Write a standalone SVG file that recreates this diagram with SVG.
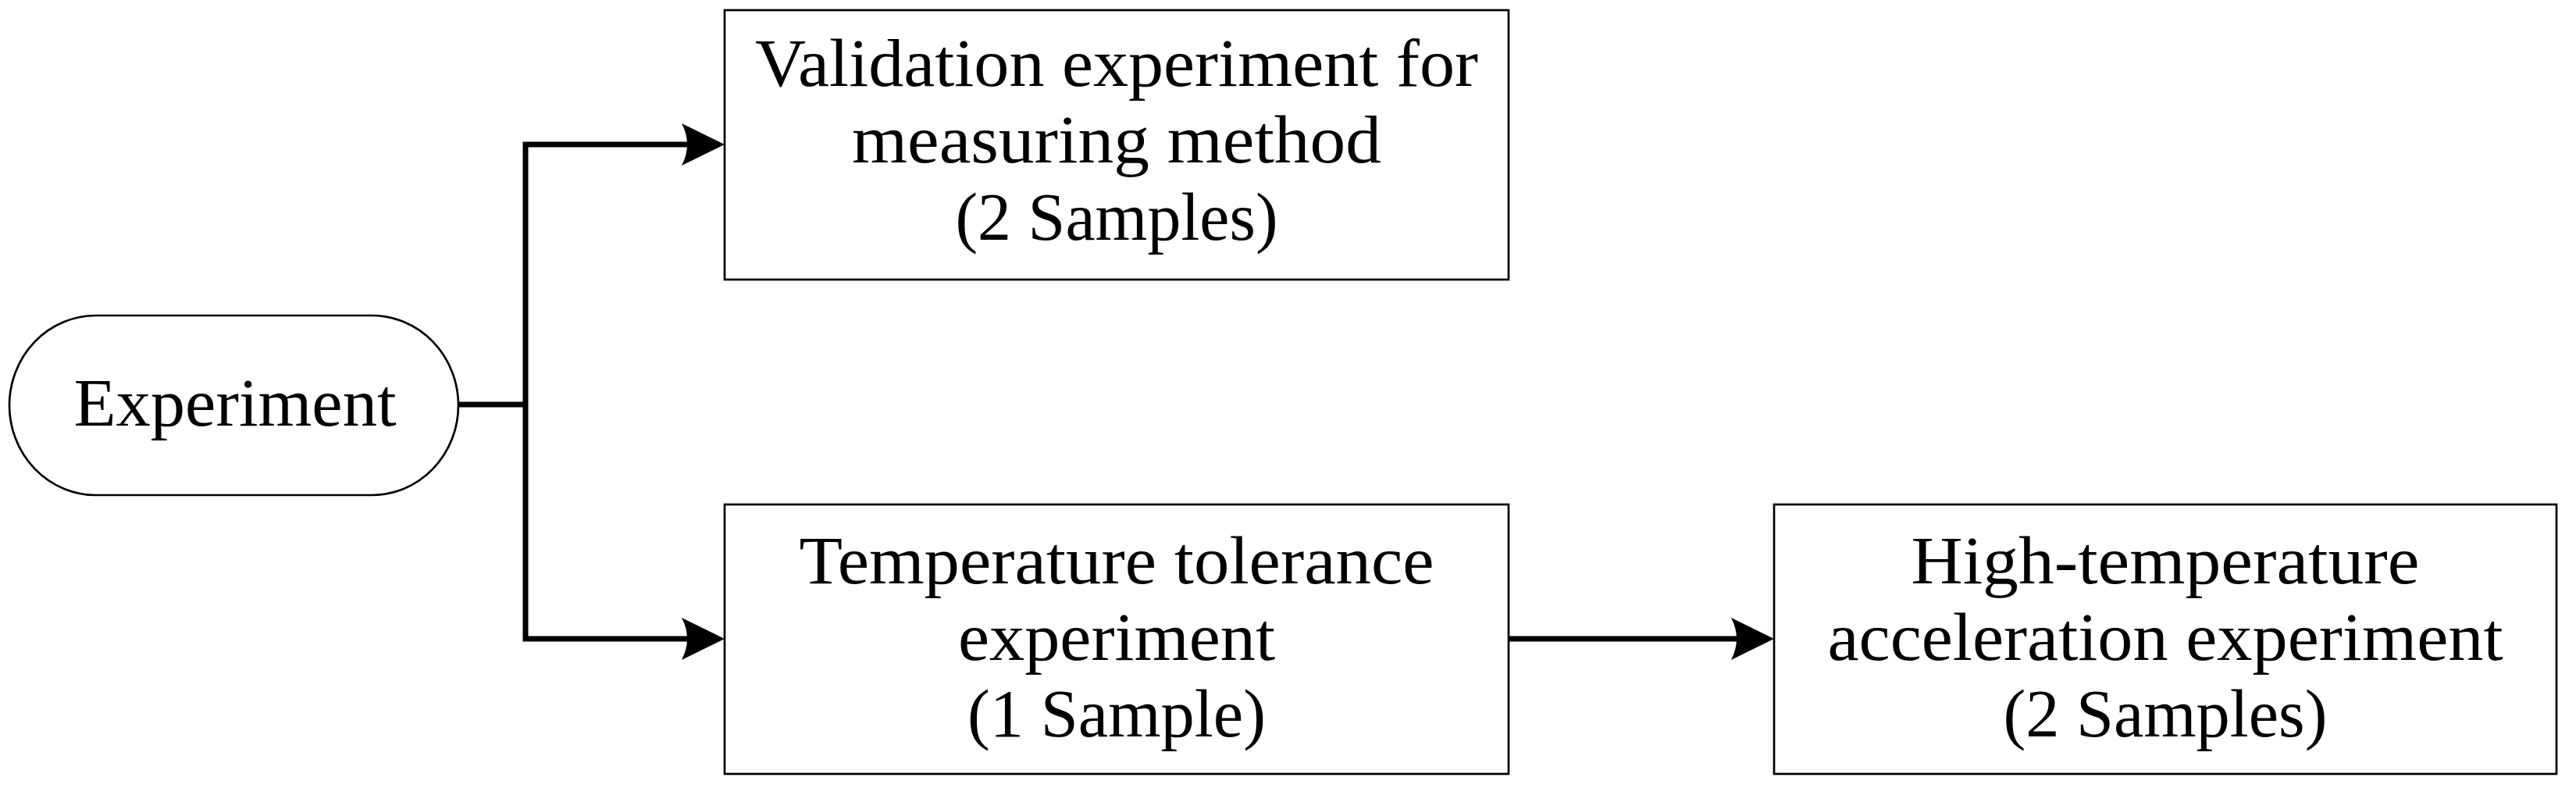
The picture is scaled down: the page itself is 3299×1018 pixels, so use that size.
<svg xmlns="http://www.w3.org/2000/svg" width="3299" height="1018" viewBox="0 0 3299 1018">
<style>
.node{fill:#fff;stroke:#000;stroke-width:2.7}
.lbl{font-family:"Liberation Serif","Times New Roman",serif;font-size:86px;fill:#000;text-anchor:middle}
.conn{fill:none;stroke:#000;stroke-width:7;stroke-linejoin:miter}
</style>
<defs>
<marker id="arr" viewBox="0 0 55 54" markerWidth="55" markerHeight="54" markerUnits="userSpaceOnUse" refX="10" refY="27" orient="auto">
<path d="M0,0 L55,27 L0,54 Q14,27 0,0 Z" fill="#000"/>
</marker>
</defs>
<rect width="3299" height="1018" fill="#fff"/>
<g id="connectors">
<path class="conn" d="M587,518 H673"/>
<path class="conn" d="M673,518 V185 H883" marker-end="url(#arr)"/>
<path class="conn" d="M673,518 V818 H883" marker-end="url(#arr)"/>
<path class="conn" d="M1932,818 H2227" marker-end="url(#arr)"/>
</g>
<g id="experiment">
<rect class="node" x="12" y="404" width="575" height="230" rx="111" ry="115"/>
<text class="lbl" x="301" y="545" textLength="413" lengthAdjust="spacingAndGlyphs">Experiment</text>
</g>
<g id="validation">
<rect class="node" x="928" y="13" width="1004" height="345"/>
<text class="lbl" x="1430" y="110" textLength="926" lengthAdjust="spacingAndGlyphs">Validation experiment for</text>
<text class="lbl" x="1430" y="208" textLength="678" lengthAdjust="spacingAndGlyphs">measuring method</text>
<text class="lbl" x="1430" y="307" textLength="413" lengthAdjust="spacingAndGlyphs">(2 Samples)</text>
</g>
<g id="tolerance">
<rect class="node" x="928" y="646" width="1004" height="345"/>
<text class="lbl" x="1430" y="747" textLength="813" lengthAdjust="spacingAndGlyphs">Temperature tolerance</text>
<text class="lbl" x="1430" y="845" textLength="406" lengthAdjust="spacingAndGlyphs">experiment</text>
<text class="lbl" x="1430" y="943" textLength="382" lengthAdjust="spacingAndGlyphs">(1 Sample)</text>
</g>
<g id="acceleration">
<rect class="node" x="2272" y="646" width="1002" height="345"/>
<text class="lbl" x="2773" y="747" textLength="651" lengthAdjust="spacingAndGlyphs">High-temperature</text>
<text class="lbl" x="2773" y="845" textLength="865" lengthAdjust="spacingAndGlyphs">acceleration experiment</text>
<text class="lbl" x="2773" y="943" textLength="415" lengthAdjust="spacingAndGlyphs">(2 Samples)</text>
</g>
</svg>
